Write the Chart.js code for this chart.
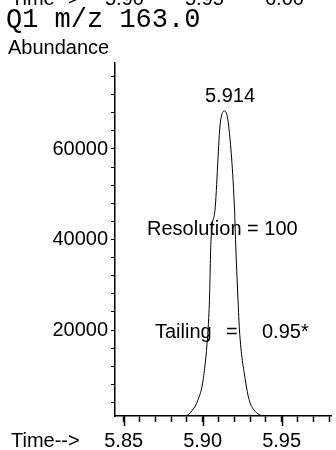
<!DOCTYPE html>
<html>
<head>
<meta charset="utf-8">
<script src="https://cdn.jsdelivr.net/npm/chart.js@4/dist/chart.umd.min.js"></script>
<style>
  html, body { margin: 0; padding: 0; background: #fff; }
  #wrap { width: 336px; height: 450px; position: relative; }
</style>
</head>
<body>
<div id="wrap"><canvas id="chrom"></canvas></div>
<script>
// peak trace (time in min, abundance)
var times = [5.8445, 5.880, 5.889, 5.8935, 5.897, 5.9003, 5.9034, 5.9043, 5.9053, 5.9078, 5.9112, 5.914,
             5.9165, 5.9202, 5.9208, 5.9224, 5.9233, 5.927, 5.9295, 5.9326, 5.9394, 5.950, 5.9815];
var abundance = [1000, 1000, 1000, 2300, 4500, 9000, 20000, 26600, 40000, 46500, 65800, 68400,
                 65000, 46500, 40000, 26600, 20000, 9000, 4500, 2300, 1000, 1000, 1000];
var yLabels = [20000, 40000, 60000];
var xLabels = [5.85, 5.90, 5.95];
var headerTicks = ['5.90', '5.95', '6.00'];
var peakLabel = '5.914';
var resolutionText = 'Resolution = 100';
var tailingParts = ['Tailing', '=', '0.95*'];
var titleText = 'Q1 m/z 163.0';

var pts = [];
for (var i = 0; i < times.length; i++) {
  pts.push({x: times[i], y: abundance[i]});
}

var sans = 'Liberation Sans, Arial, sans-serif';

var textPlugin = {
  id: 'texts',
  afterDraw: function(chart) {
    var ctx = chart.ctx;
    var xs = chart.scales.x;
    ctx.save();
    ctx.fillStyle = '#000';
    ctx.strokeStyle = '#000';
    // longer major ticks on the time axis
    ctx.lineWidth = 1.5;
    xLabels.forEach(function(v) {
      var px = Math.round(xs.getPixelForValue(v)) + 0.5;
      ctx.beginPath();
      ctx.moveTo(px, chart.chartArea.bottom);
      ctx.lineTo(px, chart.chartArea.bottom + 10);
      ctx.stroke();
    });
    // cut off header from the panel above
    ctx.font = '20px ' + sans;
    ctx.textBaseline = 'alphabetic';
    ctx.textAlign = 'left';
    ctx.fillText('Time-->', 11, 5);
    ctx.fillText(headerTicks[0], 105, 5);
    ctx.fillText(headerTicks[1], 185, 5);
    ctx.fillText(headerTicks[2], 265, 5);
    ctx.font = '27px Liberation Mono, Courier New, monospace';
    ctx.fillText(titleText, 6, 27);
    ctx.font = '20px ' + sans;
    ctx.fillText('Abundance', 8, 54);
    ctx.fillText('Time-->', 11, 447);
    ctx.textAlign = 'center';
    ctx.fillText(peakLabel, 230, 102);
    ctx.textAlign = 'left';
    ctx.fillText(resolutionText, 147, 235);
    ctx.fillText(tailingParts[0], 155, 338);
    ctx.fillText(tailingParts[1], 226, 338);
    ctx.fillText(tailingParts[2], 262, 338);
    ctx.restore();
  }
};

new Chart(document.getElementById('chrom'), {
  type: 'scatter',
  data: {
    datasets: [{
      data: pts,
      showLine: true,
      borderColor: '#000',
      borderWidth: 1,
      pointRadius: 0,
      cubicInterpolationMode: 'monotone',
      fill: false
    }]
  },
  options: {
    responsive: true,
    maintainAspectRatio: false,
    animation: false,
    layout: { padding: { top: 63, right: 0, left: 0, bottom: 0 } },
    plugins: { legend: { display: false }, tooltip: { enabled: false } },
    scales: {
      x: {
        type: 'linear',
        min: 5.8445,
        max: 5.9815,
        afterBuildTicks: function(scale) {
          var t = [];
          for (var k = 585; k <= 598; k++) t.push({value: k / 100});
          scale.ticks = t;
        },
        afterFit: function(scale) { scale.height = 34; },
        grid: { drawOnChartArea: false, tickLength: 6, color: '#000', tickWidth: 1.5 },
        border: { color: '#000', width: 1.5 },
        ticks: {
          color: '#000',
          padding: 7,
          maxRotation: 0,
          autoSkip: false,
          font: { family: sans, size: 20 },
          callback: function(v) {
            var r = Math.round(v * 100);
            return r % 5 === 0 ? (r / 100).toFixed(2) : '';
          }
        }
      },
      y: {
        min: 1000,
        max: 79000,
        afterBuildTicks: function(scale) {
          var t = [];
          for (var k = 4000; k <= 76000; k += 4000) t.push({value: k});
          scale.ticks = t;
        },
        afterFit: function(scale) { scale.width = 115; },
        grid: { drawOnChartArea: false, tickLength: 4, color: '#000', tickWidth: 1 },
        border: { color: '#000', width: 1.5 },
        ticks: {
          color: '#000',
          padding: 3,
          autoSkip: false,
          font: { family: sans, size: 20 },
          callback: function(v) {
            return yLabels.indexOf(v) >= 0 ? String(v) : '';
          }
        }
      }
    }
  },
  plugins: [textPlugin]
});
</script>
</body>
</html>
